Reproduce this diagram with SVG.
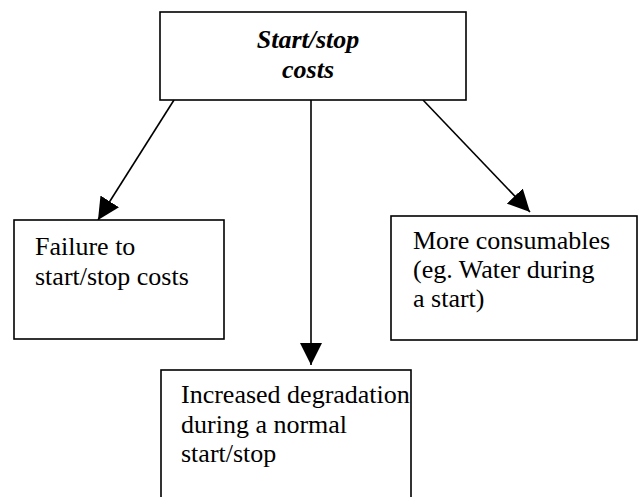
<svg xmlns="http://www.w3.org/2000/svg" width="639" height="497" viewBox="0 0 639 497">
<style>
.box{fill:#fff;stroke:#000;stroke-width:1.6}
.t{font-size:26px;fill:#000}
.ti{font-weight:bold;font-style:italic;text-anchor:middle}
.c{stroke:#000;stroke-width:1.6;fill:none}
</style>
<defs>
<marker id="ah" markerUnits="userSpaceOnUse" markerWidth="22" markerHeight="22" viewBox="0 0 20 20" refX="20" refY="10" orient="auto">
<path d="M0,0 L20,10 L0,20 z" fill="#000"/>
</marker>
</defs>
<rect width="639" height="497" fill="#fff"/>
<g id="connectors">
<line class="c" x1="174" y1="100" x2="98" y2="220" marker-end="url(#ah)"/>
<line class="c" x1="311" y1="100" x2="311" y2="365" marker-end="url(#ah)"/>
<line class="c" x1="423" y1="100" x2="530" y2="212" marker-end="url(#ah)"/>
</g>
<g font-family="'Liberation Serif', 'Times New Roman', 'DejaVu Serif', serif">
<g id="top">
<rect class="box" x="160" y="12" width="306" height="88"/>
<text class="t ti" x="308" y="48">Start/stop</text>
<text class="t ti" x="308" y="78">costs</text>
</g>
<g id="left">
<rect class="box" x="14" y="220" width="210" height="119"/>
<text class="t" x="35" y="255">Failure to</text>
<text class="t" x="35" y="285">start/stop costs</text>
</g>
<g id="right">
<rect class="box" x="391" y="216" width="246" height="124"/>
<text class="t" x="413" y="249">More consumables</text>
<text class="t" x="413" y="278">(eg. Water during</text>
<text class="t" x="413" y="307">a start)</text>
</g>
<g id="bottom">
<rect class="box" x="161" y="370" width="250" height="140"/>
<text class="t" x="181" y="403">Increased degradation</text>
<text class="t" x="181" y="433">during a normal</text>
<text class="t" x="181" y="462">start/stop</text>
</g>
</g>
</svg>
